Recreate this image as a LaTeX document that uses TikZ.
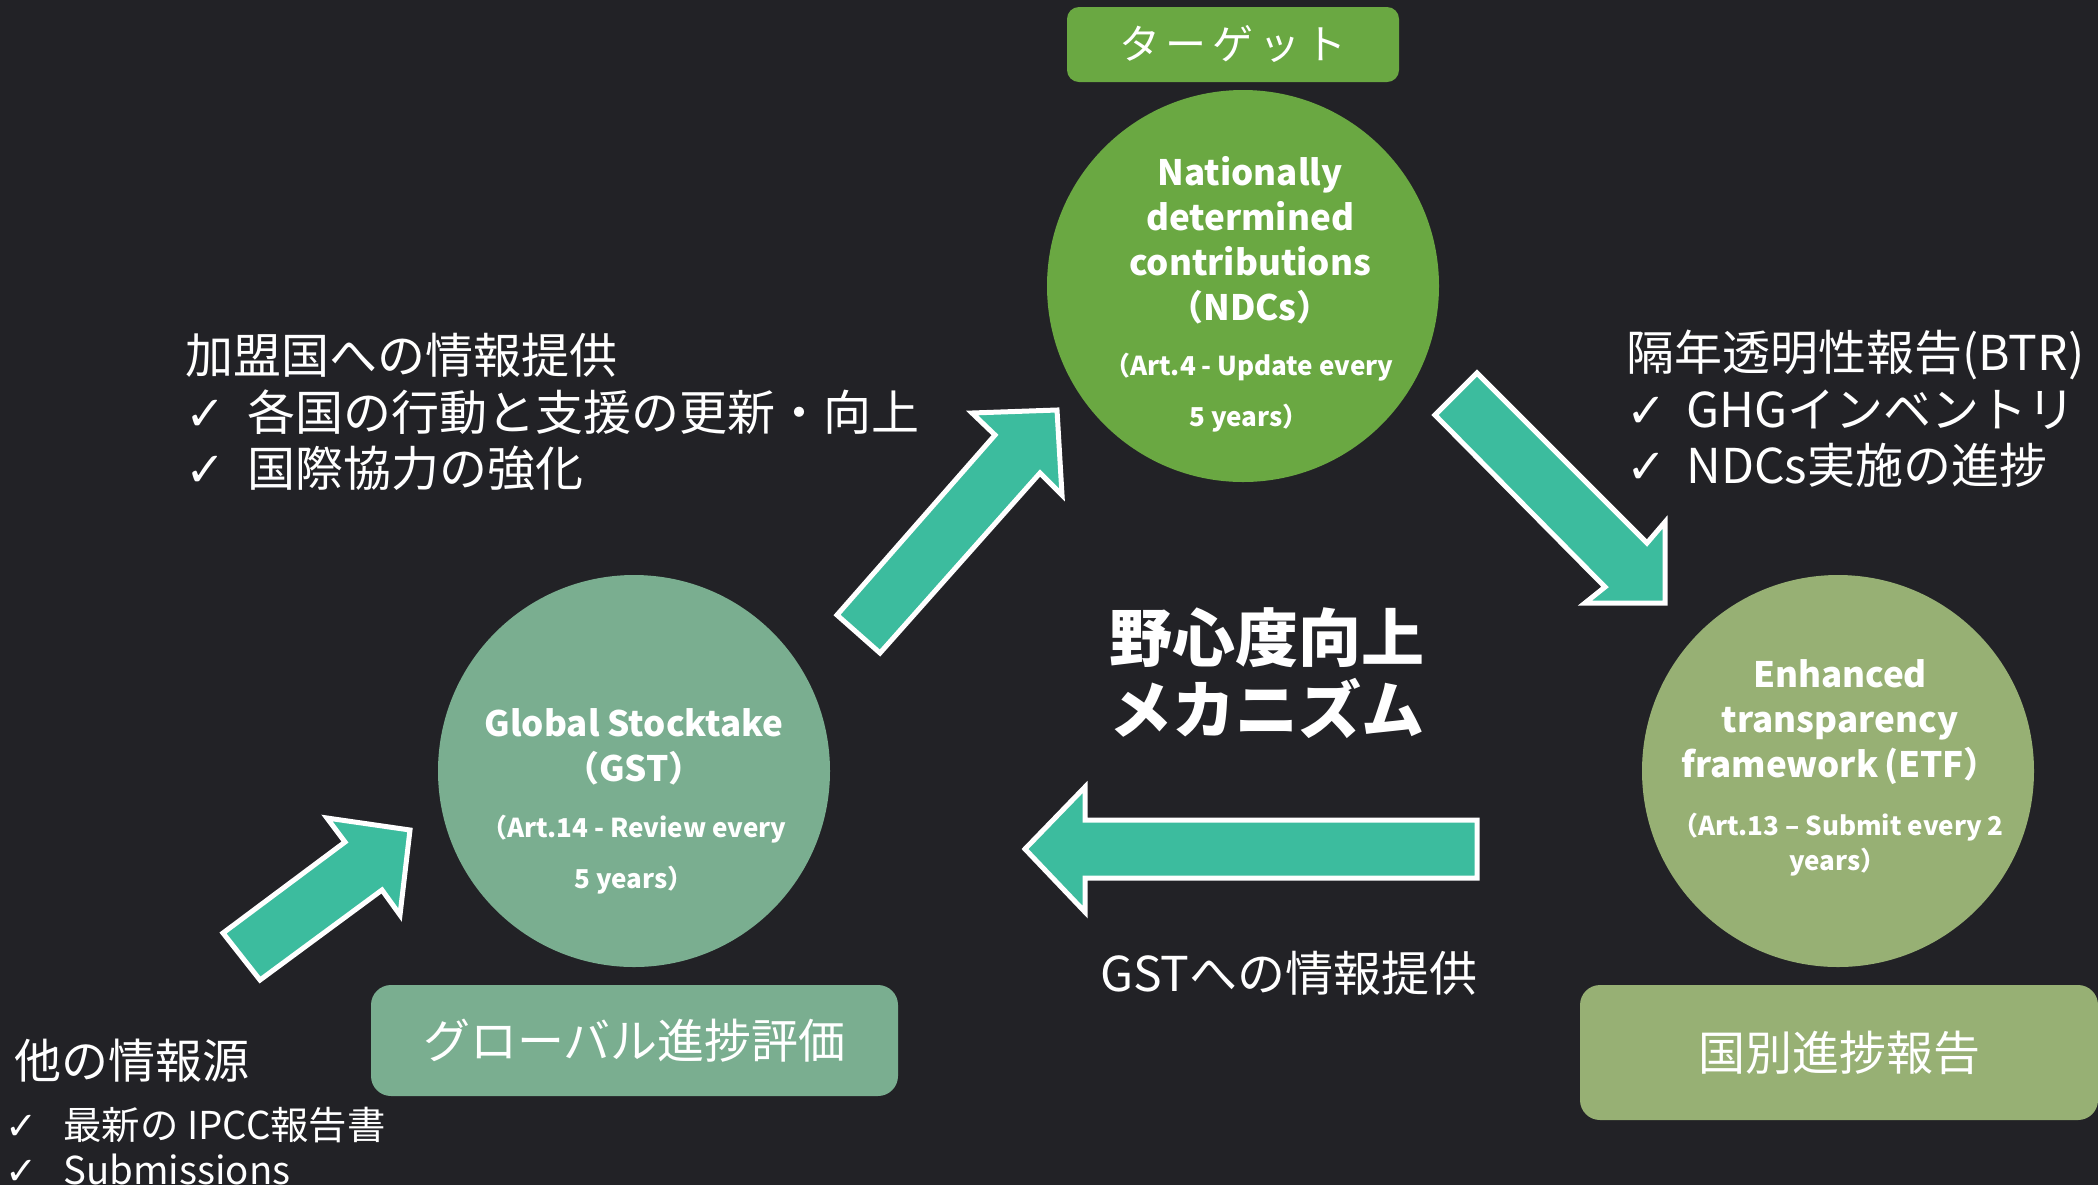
\documentclass[tikz,border=0pt]{standalone}
\usepackage{fontspec}
\setmainfont{Noto Sans CJK JP}
\newfontfamily\dv{DejaVu Sans}
\definecolor{bgc}{RGB}{34,34,38}
\definecolor{ndcg}{RGB}{106,168,66}
\definecolor{gstg}{RGB}{122,174,144}
\definecolor{etfg}{RGB}{151,176,116}
\definecolor{arrteal}{RGB}{60,188,158}
\newcommand{\chk}{{\dv ✓}}
\begin{document}
\begin{tikzpicture}[x=0.5pt,y=-0.5pt,
  circ/.style={circle,inner sep=0pt,minimum size=196pt},
  ttl/.style={text=white,font=\bfseries\fontsize{17.5}{22.5}\selectfont,align=center,inner sep=0pt},
  subt/.style={text=white,font=\bfseries\fontsize{13}{25.5}\selectfont,align=center,inner sep=0pt},
  lbl/.style={rounded corners=10pt,text=white,inner sep=0pt,font=\fontsize{23.5}{28}\selectfont},
  blk/.style={fill=arrteal,draw=white,line width=2.5pt,line join=miter},
  info/.style={text=white,font=\fontsize{24}{28.25}\selectfont,align=left,anchor=west,inner sep=0pt},
]
\fill[bgc] (0,0) rectangle (2098,1185);
\useasboundingbox (0,0) rectangle (2098,1185);

% top label
\node[lbl,fill=ndcg,minimum width=166pt,minimum height=37.5pt,rounded corners=6pt,
      font=\fontsize{20.5}{24}\selectfont\addfontfeature{LetterSpace=14}] (target) at (1233,44.5) {ターゲット};

% circles
\node[circ,fill=ndcg] (ndc) at (1243,286) {};
\node[ttl] (ndct) at (1250,240) {Nationally\\determined\\contributions\\（NDCs）};
\node[subt] (ndcs) at (1249,393) {（Art.4 - Update every\\5 years）};

\node[circ,fill=gstg] (gst) at (634,771) {};
\node[ttl] (gstt) at (634,747) {Global Stocktake\\（GST）};
\node[subt] (gsts) at (634,855) {（Art.14 - Review every\\5 years）};

\node[circ,fill=etfg] (etf) at (1838,771) {};
\node[ttl] (etft) at (1840,722) {Enhanced\\transparency\\framework\,(ETF）};
\node[subt,font=\bfseries\fontsize{13}{17.5}\selectfont] (etfs) at (1838,845) {（Art.13 – Submit every 2\\years）};

% bottom labels
\node[lbl,fill=gstg,minimum width=263.5pt,minimum height=55.5pt] (gstlbl) at (634.5,1040.5) {グローバル進捗評価};
\node[lbl,fill=etfg,minimum width=259pt,minimum height=67.5pt] (etflbl) at (1839,1052.5) {国別進捗報告};

% block arrows
\coordinate (a1t1) at (837,615);  \coordinate (a1j1) at (995,435);
\coordinate (a1b1) at (972,413);  \coordinate (a1tip) at (1057,410);
\coordinate (a1b2) at (1062,495); \coordinate (a1j2) at (1040,473);
\coordinate (a1t2) at (880,653);
\draw[blk] (a1t1) -- (a1j1) -- (a1b1) -- (a1tip) -- (a1b2) -- (a1j2) -- (a1t2) -- cycle;

\coordinate (a2t1) at (1477,373);  \coordinate (a2j1) at (1647,543);
\coordinate (a2b1) at (1665,522);  \coordinate (a2tip) at (1665,603);
\coordinate (a2b2) at (1585,603);  \coordinate (a2j2) at (1605,587);
\coordinate (a2t2) at (1435,415);
\draw[blk] (a2t1) -- (a2j1) -- (a2b1) -- (a2tip) -- (a2b2) -- (a2j2) -- (a2t2) -- cycle;

\coordinate (a3t1) at (1477,820);  \coordinate (a3j1) at (1085,820);
\coordinate (a3b1) at (1085,787);  \coordinate (a3tip) at (1025,849);
\coordinate (a3b2) at (1085,912);  \coordinate (a3j2) at (1085,878);
\coordinate (a3t2) at (1477,878);
\draw[blk] (a3t1) -- (a3j1) -- (a3b1) -- (a3tip) -- (a3b2) -- (a3j2) -- (a3t2) -- cycle;

\coordinate (a4t1) at (223,933);  \coordinate (a4j1) at (345,842);
\coordinate (a4b1) at (327,818);  \coordinate (a4tip) at (410,830);
\coordinate (a4b2) at (400,915);  \coordinate (a4j2) at (382,890);
\coordinate (a4t2) at (260,980);
\draw[blk] (a4t1) -- (a4j1) -- (a4b1) -- (a4tip) -- (a4b2) -- (a4j2) -- (a4t2) -- cycle;

% centre text
\node[text=white,font=\bfseries\fontsize{31.5}{36}\selectfont,align=center,inner sep=0pt] (mech) at (1267,673) {野心度向上\\メカニズム};
\node[text=white,font=\fontsize{24}{28}\selectfont,inner sep=0pt] (gstinfo) at (1289,973) {GSTへの情報提供};

% side texts
\node[info] (lefttxt) at (185,412) {加盟国への情報提供\\\makebox[31pt][l]{\chk}各国の行動と支援の更新・向上\\\makebox[31pt][l]{\chk}国際協力の強化};
\node[info] (righttxt) at (1626,409) {隔年透明性報告(BTR)\\\makebox[30pt][l]{\chk}GHGインベントリ\\\makebox[30pt][l]{\chk}NDCs実施の進捗};
\node[info,font=\fontsize{23.5}{28}\selectfont] (othhead) at (14,1061) {他の情報源};
\node[info,font=\fontsize{19.2}{22.5}\selectfont] (othlist) at (5,1146) {\makebox[29pt][l]{\chk}最新の IPCC報告書\\\makebox[29pt][l]{\chk}Submissions};
\end{tikzpicture}
\end{document}
